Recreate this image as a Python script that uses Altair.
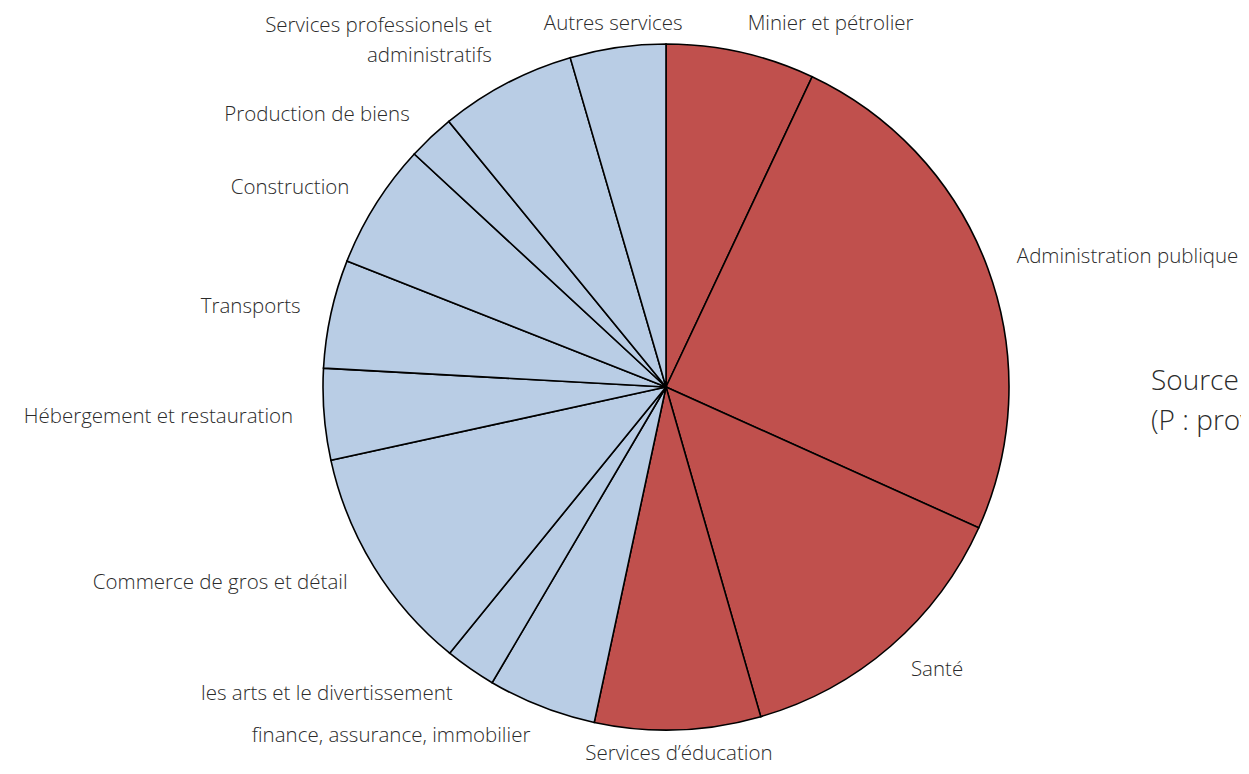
import math
import altair as alt
import pandas as pd

# Slices, clockwise from 12 o'clock
categories = [
    "Minier et pétrolier",
    "Administration publique",
    "Santé",
    "Services d’éducation",
    "finance, assurance, immobilier",
    "les arts et le divertissement",
    "Commerce de gros et détail",
    "Hébergement et restauration",
    "Transports",
    "Construction",
    "Production de biens",
    "Services professionels et\nadministratifs",
    "Autres services",
]
values = [7.0, 24.7, 13.8, 7.8, 5.1, 2.4, 10.7, 4.3, 5.1, 5.9, 2.2, 6.4, 4.5]
groups = ["A", "A", "A", "A", "B", "B", "B", "B", "B", "B", "B", "B", "B"]
source_text = "Source\u00a0: Statistique Canada\n(P : provisoire)"

df = pd.DataFrame({
    "categorie": categories,
    "valeur": values,
    "groupe": groups,
    "ordre": list(range(len(categories))),
})

CX, CY, R, RL = 658, 379, 343, 374
LH = 30
FONT = "Open Sans"
TXT = "#2b2b2b"
FS = 20.5

one = pd.DataFrame({"k": [0]})

# soft shadow around the pie
glow = alt.layer(*[
    alt.Chart(one).mark_circle(size=math.pi * (R + g) ** 2, color="black", opacity=0.035, strokeWidth=0)
    .encode(x=alt.value(CX + 1), y=alt.value(CY + 2))
    for g in (2, 4, 6)
])

base = alt.Chart(df)

pie = base.mark_arc(radius=R, stroke="black", strokeWidth=1.6).encode(
    theta=alt.Theta("valeur:Q", stack=True),
    order=alt.Order("ordre:Q"),
    color=alt.Color("groupe:N", scale=alt.Scale(domain=["A", "B"], range=["#C0504D", "#B9CDE5"]), legend=None),
    x=alt.value(CX),
    y=alt.value(CY),
)

lab = base.transform_joinaggregate(total="sum(valeur)").transform_window(
    cum="sum(valeur)", sort=[alt.SortField("ordre")], frame=[None, 0]
).transform_calculate(
    mid="(datum.cum - datum.valeur/2) / datum.total * 2 * PI",
    nl="length(split(datum.categorie, '\\n'))",
).transform_calculate(
    lx=f"{CX} + {RL} * sin(datum.mid)",
    ly=f"clamp({CY} - {RL} * cos(datum.mid) - (datum.nl - 1) * {LH}, 16, 746)",
    side="(datum.mid < PI/18 || datum.mid > 35*PI/18 || (datum.mid > 17*PI/18 && datum.mid < 19*PI/18)) ? 'c' : (datum.mid < PI ? 'l' : 'r')",
)

def label_layer(side, align):
    return lab.transform_filter(alt.datum.side == side).mark_text(
        align=align, baseline="middle", font=FONT, fontSize=FS,
        fontWeight=300, color=TXT, lineBreak="\n", lineHeight=LH,
    ).encode(
        text="categorie:N",
        x=alt.X("lx:Q", scale=None),
        y=alt.Y("ly:Q", scale=None),
    )

labels = label_layer("l", "left") + label_layer("r", "right") + label_layer("c", "center")

src = alt.Chart(pd.DataFrame({"t": [source_text]})).mark_text(
    align="left", baseline="middle", font=FONT, fontSize=28, fontWeight=300,
    color=TXT, lineBreak="\n", lineHeight=40,
).encode(text="t:N", x=alt.value(1143), y=alt.value(374))

chart = alt.layer(glow, pie, labels, src).properties(
    width=1233, height=758, padding=0, autosize=alt.AutoSizeParams(type="none"),
).configure_view(stroke=None)

chart.save("out.html", embed_options={"renderer": "svg", "actions": False})
